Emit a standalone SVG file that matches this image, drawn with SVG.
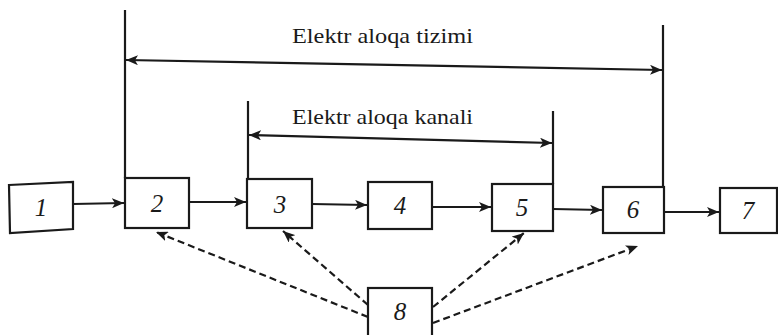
<svg xmlns="http://www.w3.org/2000/svg" width="778" height="335" viewBox="0 0 778 335">
<style>
.box{fill:#fff;stroke:#1a1a1a;stroke-width:2.2}
.num{font-family:"Liberation Serif",serif;font-style:italic;font-size:25px;fill:#1a1a1a;text-anchor:middle}
.lbl{font-family:"Liberation Serif",serif;font-size:22px;fill:#1a1a1a}
.ln{stroke:#1a1a1a;stroke-width:2.2;fill:none}
.dash{stroke:#1a1a1a;stroke-width:2.2;fill:none;stroke-dasharray:7,4}
</style>
<defs>
<marker id="ah" viewBox="0 0 12 10" refX="12" refY="5" markerWidth="12" markerHeight="10" markerUnits="userSpaceOnUse" orient="auto-start-reverse">
<path d="M0,0 L12,5 L0,10 L3,5 Z" fill="#1a1a1a"/>
</marker>
</defs>
<rect width="778" height="335" fill="#fff"/>
<g id="connectors">
<line class="ln" x1="125" y1="10" x2="125" y2="178"/>
<line class="ln" x1="248" y1="101" x2="248" y2="179"/>
<line class="ln" x1="553" y1="111" x2="553" y2="184"/>
<line class="ln" x1="663" y1="25" x2="663" y2="187"/>
<line class="ln" x1="126" y1="60" x2="662" y2="70" marker-start="url(#ah)" marker-end="url(#ah)"/>
<line class="ln" x1="249" y1="135" x2="552" y2="143" marker-start="url(#ah)" marker-end="url(#ah)"/>
<line class="ln" x1="73" y1="204" x2="124" y2="203" marker-end="url(#ah)"/>
<line class="ln" x1="189" y1="202" x2="246" y2="202" marker-end="url(#ah)"/>
<line class="ln" x1="312" y1="204" x2="367" y2="205" marker-end="url(#ah)"/>
<line class="ln" x1="432" y1="207" x2="491" y2="207" marker-end="url(#ah)"/>
<line class="ln" x1="553" y1="209" x2="602" y2="210" marker-end="url(#ah)"/>
<line class="ln" x1="664" y1="212" x2="719" y2="212" marker-end="url(#ah)"/>
<line class="dash" x1="368" y1="317" x2="156" y2="232" marker-end="url(#ah)"/>
<line class="dash" x1="368" y1="305" x2="283" y2="231" marker-end="url(#ah)"/>
<line class="dash" x1="433" y1="307" x2="524" y2="233" marker-end="url(#ah)"/>
<line class="dash" x1="433" y1="323" x2="638" y2="246" marker-end="url(#ah)"/>
</g>
<g id="label-system"><text class="lbl" x="292" y="43" textLength="181" lengthAdjust="spacingAndGlyphs">Elektr aloqa tizimi</text></g>
<g id="label-channel"><text class="lbl" x="292" y="124" textLength="181" lengthAdjust="spacingAndGlyphs">Elektr aloqa kanali</text></g>
<g id="n1"><polygon class="box" points="9,185 73,182 73,229 10,233"/><text class="num" x="41" y="216">1</text></g>
<g id="n2"><rect class="box" x="125" y="178" width="64" height="50"/><text class="num" x="157" y="212">2</text></g>
<g id="n3"><rect class="box" x="247" y="179" width="65" height="49"/><text class="num" x="280" y="213">3</text></g>
<g id="n4"><rect class="box" x="368" y="182" width="64" height="47"/><text class="num" x="400" y="214">4</text></g>
<g id="n5"><rect class="box" x="492" y="184" width="61" height="47"/><text class="num" x="522" y="216">5</text></g>
<g id="n6"><rect class="box" x="603" y="187" width="61" height="46"/><text class="num" x="633" y="218">6</text></g>
<g id="n7"><rect class="box" x="720" y="188" width="57" height="45"/><text class="num" x="748" y="219">7</text></g>
<g id="n8"><rect class="box" x="368" y="288" width="64" height="50"/><text class="num" x="400" y="320">8</text></g>
</svg>
